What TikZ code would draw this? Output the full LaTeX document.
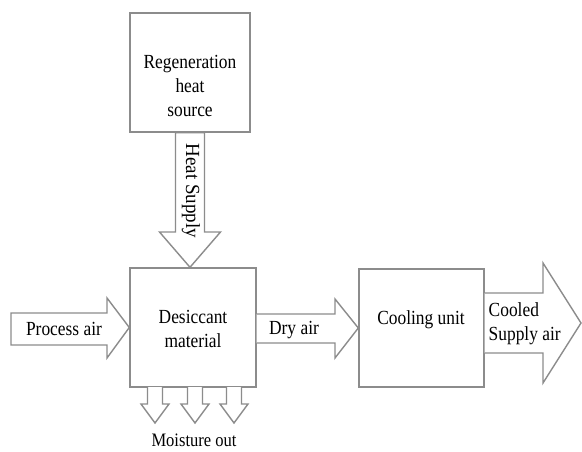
\documentclass[tikz,border=0pt]{standalone}
\usepackage{fontspec}
\setmainfont[FakeStretch=0.87]{Liberation Serif}
\newfontfamily\plainserif[FakeStretch=0.95]{Liberation Serif}
\begin{document}
\begin{tikzpicture}[x=1pt,y=-1pt,
  line width=1.4pt,
  boxstyle/.style={draw=gray!90, fill=white, line width=1.4pt, inner sep=0pt},
  blockarrow/.style={draw=gray!90, fill=white, line width=1.4pt, line join=miter},
  lbl/.style={font=\fontsize{20}{24}\selectfont, inner sep=0pt, align=center, text=black}]
\useasboundingbox (0,0) rectangle (582,452);
\fill[white] (0,0) rectangle (582,452);

% boxes
\node[boxstyle, minimum width=120pt, minimum height=119pt] (regen) at (190,72.5) {};
\node[boxstyle, minimum width=126pt, minimum height=119pt] (des) at (193,327.5) {};
\node[boxstyle, minimum width=125pt, minimum height=118pt] (cool) at (421.5,328) {};

% heat supply arrow (regen -> des)
\coordinate (hs) at (regen.south);
\coordinate (ht) at (des.north);
\draw[blockarrow] ([xshift=-14.5pt]hs) -- ([xshift=14.5pt]hs) -- ([xshift=14.5pt]hs |- 0,232)
  -- ([xshift=30.5pt]hs |- 0,232) -- (hs |- ht) -- ([xshift=-30.5pt]hs |- 0,232)
  -- ([xshift=-14.5pt]hs |- 0,232) -- cycle;

% process air arrow
\draw[blockarrow] (11,313) -- (107,313) -- (107,298) -- (des.west) -- (107,358) -- (107,345) -- (11,345) -- cycle;

% dry air arrow
\draw[blockarrow] (des.east |- 0,314) -- (335,314) -- (335,299) -- (cool.west) -- (335,358) -- (335,343) -- (des.east |- 0,343);

% cooled supply air arrow
\coordinate (cooltip) at (581,323);
\draw[blockarrow] (cool.east |- 0,293) -- (543,293) -- (543,263) -- (cooltip) -- (543,383) -- (543,353) -- (cool.east |- 0,353);

% moisture out arrows
\foreach \cx/\nm in {155/m1,195/m2,234/m3}{
  \coordinate (\nm) at (\cx,423);
  \draw[blockarrow] (\cx-7.5,387) -- (\cx-7.5,404) -- (\cx-14,404) -- (\nm) -- (\cx+14,404) -- (\cx+7.5,404) -- (\cx+7.5,387);
}

% texts
\node[lbl] (tregen) at (190,86) {Regeneration\\heat\\source};
\node[inner sep=0pt, rotate=-90, font=\plainserif\fontsize{20}{24}\selectfont] (theat) at (191,191) {Heat Supply};
\node[lbl] (tdes) at (193,329) {Desiccant\\material};
\node[lbl] (tproc) at (64,329) {Process air};
\node[lbl] (tdry) at (294,330) {Dry air};
\node[lbl] (tcool) at (421,320) {Cooling unit};
\node[lbl, align=left, anchor=west] (tcooled) at (488,324) {Cooled\\Supply air};
\node[lbl, font=\fontsize{19}{24}\selectfont] (tmoist) at (194,440) {Moisture out};
\end{tikzpicture}
\end{document}
